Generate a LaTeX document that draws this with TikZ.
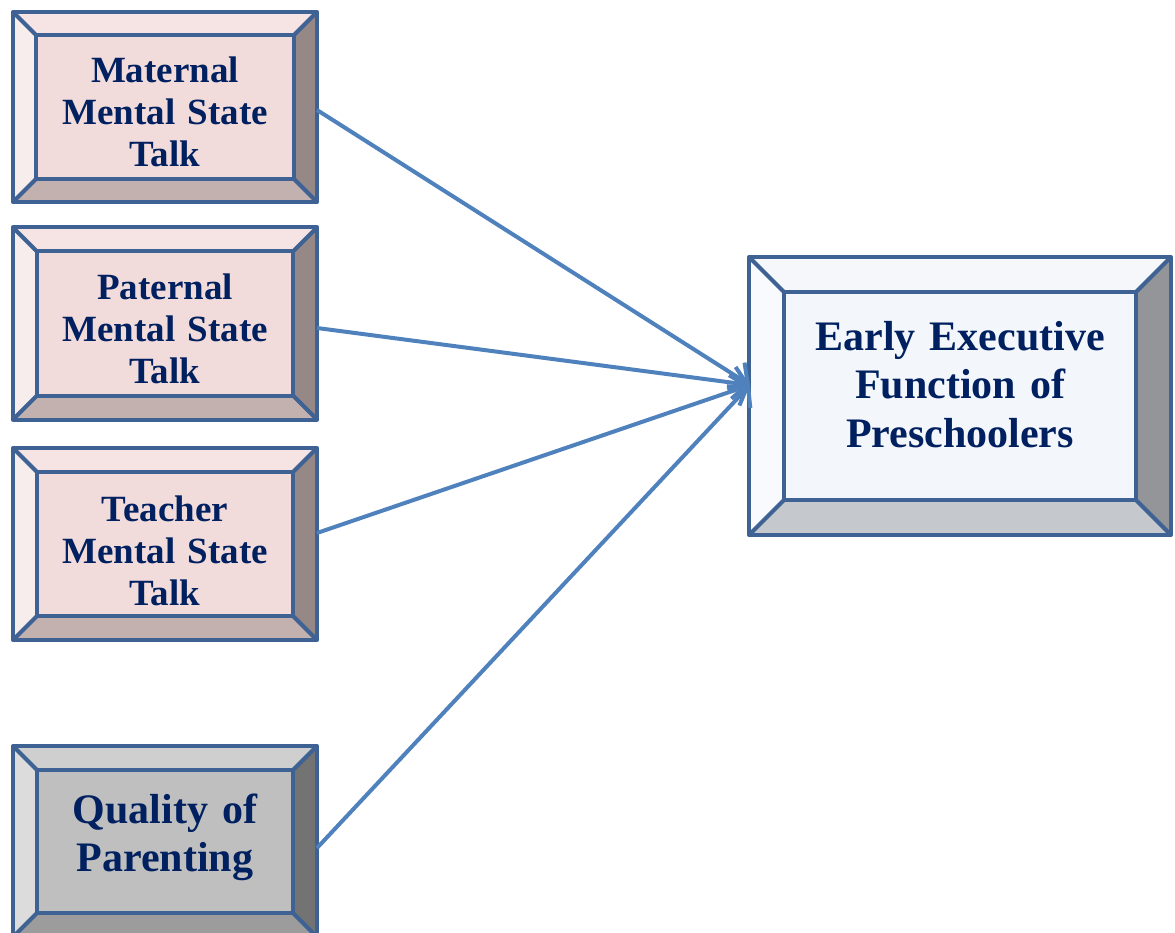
\documentclass[tikz,border=0pt]{standalone}
\usepackage{fontspec}
\setmainfont{Liberation Serif}
\usetikzlibrary{arrows.meta,calc}
\definecolor{bordercol}{HTML}{3D6293}
\definecolor{txtcol}{HTML}{002060}
\definecolor{arrcol}{HTML}{4F81BD}
\definecolor{pinkface}{HTML}{F2DCDB}
\definecolor{pinktop}{HTML}{F5E4E3}
\definecolor{pinkleft}{HTML}{F8EDED}
\definecolor{pinkbot}{HTML}{C3B1B0}
\definecolor{pinkright}{HTML}{958887}
\definecolor{blueface}{HTML}{F3F6FB}
\definecolor{bluetop}{HTML}{F5F7FB}
\definecolor{blueleft}{HTML}{F9FAFD}
\definecolor{bluebot}{HTML}{C5C8CC}
\definecolor{blueright}{HTML}{939598}
\definecolor{grayface}{HTML}{BFBFBF}
\definecolor{graytop}{HTML}{CFCFCF}
\definecolor{grayleft}{HTML}{DCDCDC}
\definecolor{graybot}{HTML}{9C9C9C}
\definecolor{grayright}{HTML}{737373}
\tikzset{
  boxline/.style={draw=bordercol, line width=4pt, line join=round},
  boxtext/.style={text=txtcol, align=center, inner sep=0pt, anchor=base},
  smallfont/.style={font=\fontsize{37}{42}\selectfont\bfseries},
  bigfont/.style={font=\fontsize{42}{48.5}\selectfont\bfseries},
  arr/.style={draw=arrcol, line width=4pt, -{Straight Barb[length=14pt,width=32pt]}},
}
% #1 name, #2 centre, #3 w, #4 h, #5 bevel, #6 colour prefix, #7 first baseline offset, #8 font style, #9 text
\newcommand\bevbox[9]{%
  \node[minimum width=#3pt, minimum height=#4pt, inner sep=0pt, outer sep=0pt] (#1) at (#2) {};
  \coordinate (#1-a) at ($(#1.north west)+(#5,#5)$);
  \coordinate (#1-b) at ($(#1.north east)+(-#5,#5)$);
  \coordinate (#1-c) at ($(#1.south east)+(-#5,-#5)$);
  \coordinate (#1-d) at ($(#1.south west)+(#5,-#5)$);
  \fill[#6face] (#1-a) rectangle (#1-c);
  \node[boxtext, #8, text width=#3pt] (#1-t) at ($(#1.north)+(0,#7)$) {#9};
  \fill[#6top] (#1.north west) -- (#1.north east) -- (#1-b) -- (#1-a) -- cycle;
  \fill[#6left] (#1.north west) -- (#1-a) -- (#1-d) -- (#1.south west) -- cycle;
  \fill[#6bot] (#1.south west) -- (#1-d) -- (#1-c) -- (#1.south east) -- cycle;
  \fill[#6right] (#1.north east) -- (#1.south east) -- (#1-c) -- (#1-b) -- cycle;
  \draw[boxline] (#1.north west) rectangle (#1.south east);
  \draw[boxline] (#1-a) rectangle (#1-c);
  \draw[boxline] (#1.north west) -- (#1-a) (#1.north east) -- (#1-b)
                 (#1.south east) -- (#1-c) (#1.south west) -- (#1-d);
}
\begin{document}
\begin{tikzpicture}[x=1pt, y=-1pt]
\useasboundingbox (0,0) rectangle (1175,933);
\begin{scope}
\clip (0,0) rectangle (1175,933);
\bevbox{mat}{165,107}{304}{190}{23}{pink}{71}{smallfont}{Maternal\\Mental State\\Talk}
\bevbox{pat}{165,323.5}{304}{192}{24}{pink}{72}{smallfont}{Paternal\\Mental State\\Talk}
\bevbox{tea}{165,544}{304}{192}{24}{pink}{73}{smallfont}{Teacher\\Mental State\\Talk}
\bevbox{qual}{165,841.5}{304}{191}{24}{gray}{77}{bigfont}{Quality of\\Parenting}
\bevbox{eef}{960,396}{422}{278}{35}{blue}{93}{bigfont}{Early Executive\\Function of\\Preschoolers}
\coordinate (tip) at ($(eef.west)+(1,-11)$);
\draw[arr] ($(mat.east)+(0,3)$) -- (tip);
\draw[arr] ($(pat.east)+(0,4.5)$) -- (tip);
\draw[arr] ($(tea.east)+(0,-11)$) -- (tip);
\draw[arr] ($(qual.east)+(0,6.5)$) -- (tip);
\end{scope}
\end{tikzpicture}
\end{document}
